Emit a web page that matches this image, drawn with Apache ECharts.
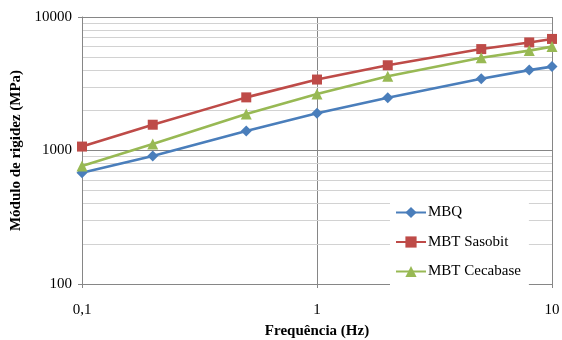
<!DOCTYPE html>
<html><head><meta charset="utf-8">
<script src="https://cdn.jsdelivr.net/npm/echarts@6/dist/echarts.min.js"></script>
<style>html,body{margin:0;padding:0;background:#fff}#c{width:562px;height:340px}</style>
</head><body><div id="c"></div>
<script>
const frequencies = [0.1, 0.2, 0.5, 1, 2, 5, 8, 10];
const mbq = [680, 910, 1400, 1900, 2480, 3450, 4000, 4250];
const mbtSasobit = [1070, 1560, 2500, 3400, 4350, 5750, 6450, 6850];
const mbtCecabase = [765, 1120, 1880, 2650, 3600, 4950, 5600, 6000];
const seriesNames = ['MBQ', 'MBT Sasobit', 'MBT Cecabase'];
const xRange = [0.1, 10];
const yRange = [100, 10000];
const yMinorGrid = [200, 300, 400, 500, 600, 700, 800, 900, 2000, 3000, 4000, 5000, 6000, 7000, 8000, 9000];

const FONT = '"Liberation Serif", "Times New Roman", serif';
const colors = ['#4A7EBB', '#BE4B48', '#98B954'];
const symbols = ['diamond', 'rect', 'triangle'];
const symbolSizes = [11, 10, 11];
const dataSets = [mbq, mbtSasobit, mbtCecabase];

const chart = echarts.init(document.getElementById('c'), null, {renderer: 'canvas'});
const series = [{
  type: 'line', name: '_grid', data: [], z: 0, silent: true,
  markLine: {
    silent: true, symbol: ['none', 'none'], animation: false, z: 0,
    label: {show: false},
    lineStyle: {color: '#d2d2d2', width: 1, type: 'solid'},
    emphasis: {disabled: true},
    data: yMinorGrid.map(v => ({yAxis: v}))
  }
}];
dataSets.forEach((d, i) => {
  series.push({
    type: 'line', name: seriesNames[i], z: 3,
    data: frequencies.map((f, j) => [f, d[j]]),
    symbol: symbols[i], symbolSize: symbolSizes[i],
    showAllSymbol: true,
    lineStyle: {color: colors[i], width: 2.6},
    itemStyle: {color: colors[i]},
    animation: false
  });
});

chart.setOption({
  animation: false,
  backgroundColor: '#fff',
  textStyle: {fontFamily: FONT},
  grid: {left: 82, right: 10, top: 17, bottom: 56, containLabel: false, outerBoundsMode: 'none'},
  legend: {
    data: seriesNames, orient: 'vertical', left: 390, top: 196, z: 20,
    backgroundColor: '#fff', padding: [9, 8, 7, 5],
    itemWidth: 30, itemHeight: 14, itemGap: 14.5,
    textStyle: {fontFamily: FONT, fontSize: 15, color: '#000', padding: [0, 0, 0, -3]}
  },
  xAxis: {
    type: 'log', logBase: 10, min: xRange[0], max: xRange[1],
    name: 'Frequência (Hz)', nameLocation: 'middle', nameGap: 40,
    nameTextStyle: {fontFamily: FONT, fontSize: 15, fontWeight: 'bold', color: '#000'},
    axisLine: {lineStyle: {color: '#868686', width: 1}},
    axisTick: {show: true, length: 4, lineStyle: {color: '#868686'}},
    axisLabel: {fontFamily: FONT, fontSize: 15, color: '#000', margin: 19,
      formatter: v => String(+v.toPrecision(6)).replace('.', ',')},
    splitLine: {show: true, lineStyle: {color: '#868686', width: 1}},
    minorTick: {show: false}
  },
  yAxis: {
    type: 'log', logBase: 10, min: yRange[0], max: yRange[1],
    name: 'Módulo de rigidez (MPa)', nameLocation: 'middle', nameGap: 52, nameRotate: 90,
    nameTextStyle: {fontFamily: FONT, fontSize: 15, fontWeight: 'bold', color: '#000'},
    axisLine: {show: true, lineStyle: {color: '#868686', width: 1}},
    axisTick: {show: true, length: 4, lineStyle: {color: '#868686'}},
    axisLabel: {fontFamily: FONT, fontSize: 15, color: '#000', margin: 10,
      formatter: v => String(Math.round(v))},
    splitLine: {show: true, lineStyle: {color: '#868686', width: 1}}
  },
  series: series
});
</script>
</body></html>
